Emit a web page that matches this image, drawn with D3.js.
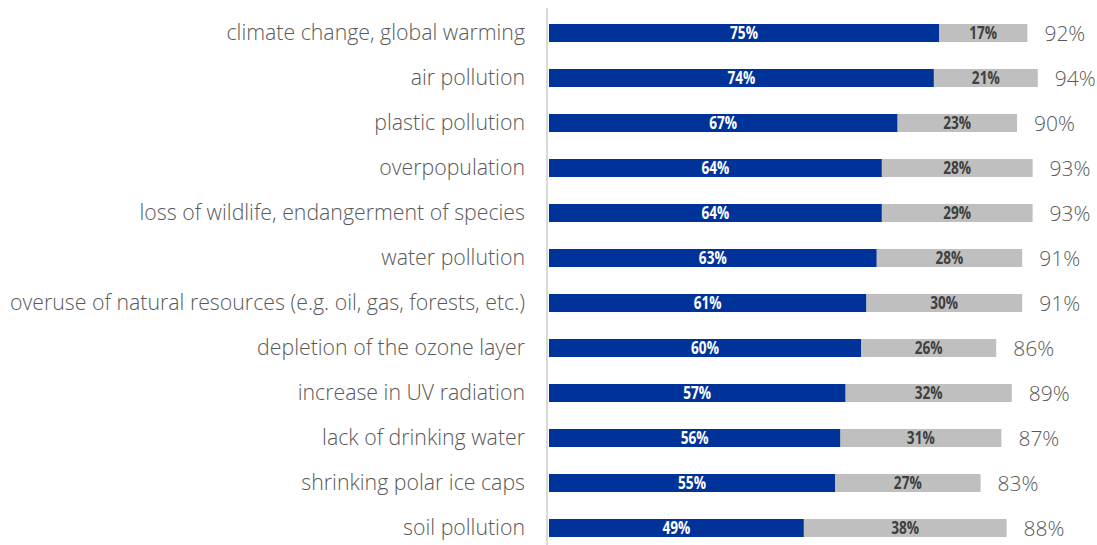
<!DOCTYPE html>
<html>
<head>
<meta charset="utf-8">
<script src="https://cdn.jsdelivr.net/npm/d3@7"></script>
<style>
  body { margin: 0; background: #fff; }
  .cat { font-family: "Open Sans", sans-serif; font-weight: 300; font-size: 21.3px; fill: #595959; }
  .total { font-family: "Open Sans", sans-serif; font-weight: 300; font-size: 21px; fill: #595959; }
  .inner { font-family: "Open Sans", sans-serif; font-weight: bold; font-size: 17.5px; }
</style>
</head>
<body>
<svg width="1097" height="545"></svg>
<script>
// categories top to bottom
var categories = [
    'climate change, global warming',
    'air pollution',
    'plastic pollution',
    'overpopulation',
    'loss of wildlife, endangerment of species',
    'water pollution',
    'overuse of natural resources (e.g. oil, gas, forests, etc.)',
    'depletion of the ozone layer',
    'increase in UV radiation',
    'lack of drinking water',
    'shrinking polar ice caps',
    'soil pollution'
];
// first (blue) segment
var strongValues = [75, 74, 67, 64, 64, 63, 61, 60, 57, 56, 55, 49];
// second (grey) segment, as labelled
var partValues = [17, 21, 23, 28, 29, 28, 30, 26, 32, 31, 27, 38];
// totals shown at the end of each bar
var totalValues = [92, 94, 90, 93, 93, 91, 91, 86, 89, 87, 83, 88];

var svg = d3.select('svg');

var x = d3.scaleLinear().domain([0, 100]).range([549, 1069]);
var y = d3.scaleBand()
    .domain(categories)
    .range([10.5, 550.5])
    .paddingInner(0.6)
    .paddingOuter(0.3);

var rows = categories.map(function(c, i) {
    return { cat: c, a: strongValues[i], b: partValues[i], total: totalValues[i] };
});

// grey bar runs from end of blue to the total
svg.selectAll('.bar-b')
    .data(rows)
    .enter()
    .append('rect')
    .attr('class', 'bar-b')
    .attr('x', function(d) { return x(d.a); })
    .attr('y', function(d) { return y(d.cat); })
    .attr('width', function(d) { return x(d.total) - x(d.a); })
    .attr('height', y.bandwidth())
    .attr('fill', '#bfbfbf');

svg.selectAll('.bar-a')
    .data(rows)
    .enter()
    .append('rect')
    .attr('class', 'bar-a')
    .attr('x', x(0))
    .attr('y', function(d) { return y(d.cat); })
    .attr('width', function(d) { return x(d.a) - x(0); })
    .attr('height', y.bandwidth())
    .attr('fill', '#003399');

// axis line
svg.append('line')
    .attr('x1', 547).attr('x2', 547)
    .attr('y1', 8).attr('y2', 545)
    .attr('stroke', '#d9d9d9')
    .attr('stroke-width', 2);

// category labels
svg.selectAll('.cat')
    .data(rows)
    .enter()
    .append('text')
    .attr('class', 'cat')
    .attr('x', 525)
    .attr('y', function(d) { return y(d.cat) + y.bandwidth() / 2; })
    .attr('dy', '0.35em')
    .attr('text-anchor', 'end')
    .text(function(d) { return d.cat; });

// inner labels (squeezed to look condensed)
function innerLabel(cls, cx, txt, fill) {
    svg.selectAll('.' + cls)
        .data(rows)
        .enter()
        .append('text')
        .attr('class', 'inner ' + cls)
        .attr('transform', function(d) {
            return 'translate(' + cx(d) + ',' + (y(d.cat) + y.bandwidth() / 2) + ') scale(0.78,1)';
        })
        .attr('dy', '0.36em')
        .attr('text-anchor', 'middle')
        .attr('fill', fill)
        .text(txt);
}
innerLabel('lab-a', function(d) { return (x(0) + x(d.a)) / 2; }, function(d) { return d.a + '%'; }, '#ffffff');
innerLabel('lab-b', function(d) { return (x(d.a) + x(d.total)) / 2; }, function(d) { return d.b + '%'; }, '#404040');

// totals
svg.selectAll('.total')
    .data(rows)
    .enter()
    .append('text')
    .attr('class', 'total')
    .attr('x', function(d) { return x(d.total) + 17; })
    .attr('y', function(d) { return y(d.cat) + y.bandwidth() / 2; })
    .attr('dy', '0.36em')
    .text(function(d) { return d.total + '%'; });
</script>
</body>
</html>
